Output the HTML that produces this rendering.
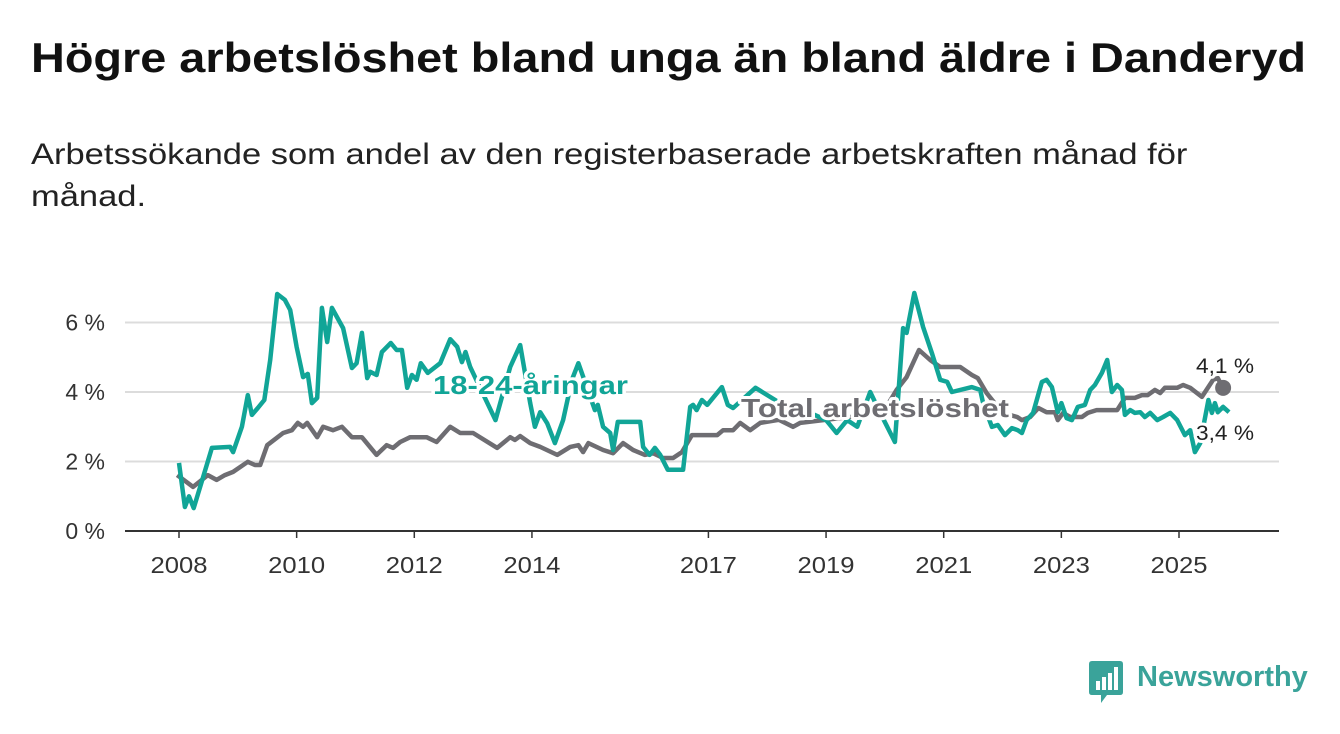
<!DOCTYPE html>
<html><head><meta charset="utf-8">
<style>
body{margin:0;background:#fff;width:1340px;height:734px;overflow:hidden;font-family:"Liberation Sans",sans-serif;}
h1{position:absolute;left:31px;top:34px;margin:0;font-size:42px;font-weight:bold;color:#111;transform:scaleX(1.115);transform-origin:0 0;white-space:nowrap}
.sub{position:absolute;left:31px;top:134px;font-size:30px;color:#222;line-height:42px;transform:scaleX(1.15);transform-origin:0 0;white-space:nowrap}
svg{position:absolute;left:0;top:0}
</style></head><body>
<h1>Högre arbetslöshet bland unga än bland äldre i Danderyd</h1>
<div class="sub">Arbetssökande som andel av den registerbaserade arbetskraften månad för<br>månad.</div>
<svg id="chart" width="1340" height="734"></svg>
<script>
const youthDates=[2008.0,2008.1,2008.17,2008.25,2008.41,2008.56,2008.87,2008.92,2009.07,2009.17,2009.24,2009.34,2009.45,2009.55,2009.67,2009.8,2009.89,2010.0,2010.11,2010.19,2010.26,2010.35,2010.43,2010.52,2010.6,2010.79,2010.94,2011.02,2011.11,2011.2,2011.25,2011.36,2011.45,2011.6,2011.7,2011.79,2011.88,2011.96,2012.04,2012.11,2012.23,2012.44,2012.61,2012.73,2012.81,2012.87,2012.95,2013.38,2013.63,2013.8,2013.97,2014.05,2014.14,2014.26,2014.39,2014.53,2014.68,2014.79,2015.07,2015.12,2015.21,2015.33,2015.38,2015.46,2015.84,2015.89,2016.0,2016.09,2016.18,2016.31,2016.57,2016.69,2016.74,2016.8,2016.89,2016.98,2017.23,2017.33,2017.42,2017.8,2018.2,2018.6,2019.0,2019.18,2019.36,2019.53,2019.75,2019.92,2020.17,2020.31,2020.37,2020.5,2020.65,2020.8,2020.94,2021.06,2021.14,2021.48,2021.62,2021.67,2021.82,2021.92,2022.04,2022.16,2022.26,2022.33,2022.41,2022.52,2022.67,2022.75,2022.84,2022.94,2023.0,2023.09,2023.18,2023.28,2023.4,2023.49,2023.57,2023.69,2023.78,2023.86,2023.95,2024.03,2024.08,2024.17,2024.25,2024.34,2024.42,2024.51,2024.63,2024.73,2024.85,2024.97,2025.1,2025.19,2025.27,2025.36,2025.5,2025.56,2025.61,2025.66,2025.75,2025.85];
const youthValues=[1.96,0.69,1.0,0.66,1.55,2.39,2.42,2.27,3.0,3.91,3.34,3.54,3.77,4.92,6.82,6.65,6.36,5.3,4.43,4.52,3.68,3.83,6.42,5.44,6.42,5.84,4.69,4.83,5.7,4.4,4.58,4.49,5.15,5.41,5.21,5.21,4.12,4.49,4.35,4.83,4.55,4.83,5.52,5.3,4.86,5.15,4.72,3.19,4.72,5.35,3.68,3.0,3.42,3.1,2.53,3.19,4.35,4.83,3.48,3.63,3.0,2.82,2.33,3.14,3.14,2.42,2.19,2.39,2.19,1.76,1.76,3.57,3.63,3.48,3.77,3.63,4.14,3.63,3.54,4.12,3.7,3.5,3.19,2.82,3.19,3.0,4.0,3.4,2.56,5.84,5.7,6.85,5.87,5.12,4.35,4.29,4.0,4.14,4.06,3.68,3.0,3.05,2.76,2.96,2.9,2.82,3.19,3.4,4.29,4.35,4.14,3.42,3.68,3.25,3.19,3.57,3.63,4.06,4.2,4.55,4.92,4.0,4.2,4.06,3.34,3.48,3.4,3.42,3.28,3.4,3.19,3.28,3.4,3.19,2.76,2.9,2.27,2.53,3.77,3.4,3.68,3.42,3.57,3.42];
const totalDates=[2007.97,2008.24,2008.49,2008.64,2008.78,2008.92,2009.17,2009.29,2009.38,2009.5,2009.77,2009.92,2010.02,2010.11,2010.18,2010.35,2010.45,2010.62,2010.77,2010.94,2011.11,2011.36,2011.53,2011.64,2011.76,2011.93,2012.21,2012.38,2012.61,2012.78,2013.0,2013.41,2013.63,2013.71,2013.8,2013.97,2014.14,2014.43,2014.65,2014.79,2014.87,2014.96,2015.21,2015.38,2015.55,2015.72,2015.92,2016.06,2016.23,2016.4,2016.55,2016.72,2017.15,2017.25,2017.42,2017.54,2017.71,2017.88,2018.2,2018.44,2018.56,2019.0,2019.5,2020.0,2020.2,2020.37,2020.58,2020.77,2020.94,2021.28,2021.48,2021.58,2021.73,2022.0,2022.25,2022.33,2022.47,2022.61,2022.75,2022.89,2022.94,2023.03,2023.15,2023.35,2023.45,2023.6,2023.95,2024.08,2024.25,2024.37,2024.47,2024.59,2024.68,2024.76,2024.97,2025.07,2025.19,2025.39,2025.58,2025.66,2025.75];
const totalValues=[1.61,1.27,1.61,1.47,1.61,1.7,1.99,1.9,1.9,2.47,2.82,2.9,3.11,3.0,3.11,2.7,3.0,2.9,3.0,2.7,2.7,2.19,2.47,2.39,2.56,2.7,2.7,2.56,3.0,2.82,2.82,2.39,2.7,2.62,2.73,2.53,2.42,2.19,2.42,2.47,2.27,2.53,2.33,2.24,2.53,2.33,2.19,2.24,2.1,2.1,2.27,2.76,2.76,2.9,2.9,3.11,2.9,3.11,3.2,3.0,3.11,3.2,3.3,3.5,4.06,4.43,5.21,4.92,4.72,4.72,4.49,4.4,3.97,3.4,3.28,3.19,3.28,3.54,3.42,3.42,3.19,3.4,3.28,3.28,3.4,3.48,3.48,3.83,3.83,3.91,3.91,4.06,3.97,4.12,4.12,4.2,4.12,3.86,4.35,4.4,4.12];
const xTicks=[2008,2010,2012,2014,2017,2019,2021,2023,2025];
const yTicks=[0,2,4,6];
const yTickLabels=["0 %","2 %","4 %","6 %"];

const NS="http://www.w3.org/2000/svg";
const svg=document.getElementById('chart');
const X=v=>179+(v-2008)*(1000/17);
const Y=v=>531-v*34.75;
function mk(t,a,p){const e=document.createElementNS(NS,t);for(const k in a)e.setAttribute(k,a[k]);(p||svg).appendChild(e);return e;}
yTicks.forEach((t,i)=>{
  if(t>0){const g=mk('line',{x1:125,x2:1279,y1:Y(t),y2:Y(t),stroke:'#dcdcdc','stroke-width':2});
  
  }
  const l=mk('text',{x:105,y:Y(t)+8,'text-anchor':'end','font-size':23,fill:'#333','font-family':'Liberation Sans'});
  l.textContent=yTickLabels[i];
  
  
});
const ax=mk('line',{x1:125,x2:1279,y1:531,y2:531,stroke:'#333','stroke-width':2});


xTicks.forEach(t=>{
  const tk=mk('line',{x1:X(t),x2:X(t),y1:531,y2:538,stroke:'#333','stroke-width':1.5});
  
  
  const l=mk('text',{x:X(t),y:573,'text-anchor':'middle','font-size':23,fill:'#333','font-family':'Liberation Sans',textLength:57,lengthAdjust:'spacingAndGlyphs'});
  l.textContent=t;
  
  
});
function path(d,v){return d.map((x,i)=>(i?'L':'M')+X(x).toFixed(1)+','+Y(v[i]).toFixed(1)).join('');}
const tl=mk('path',{d:path(totalDates,totalValues),fill:'none',stroke:'#6e6d72','stroke-width':4.5,'stroke-linejoin':'round'});


const yl=mk('path',{d:path(youthDates,youthValues),fill:'none',stroke:'#11a597','stroke-width':4.5,'stroke-linejoin':'round'});


const dot=mk('circle',{cx:X(totalDates[totalDates.length-1]),cy:Y(totalValues[totalValues.length-1]),r:8,fill:'#6e6d72'});


function lbl(txt,x,y,fill,name,size,bold,halo,len){
  const a={x:x,y:y,'font-size':size,fill:fill,'font-weight':bold?'bold':'normal','font-family':'Liberation Sans','paint-order':'stroke',stroke:halo?'#fff':'none','stroke-width':halo?6:0,'stroke-linejoin':'round'};
  if(len){a.textLength=len;a.lengthAdjust='spacingAndGlyphs';}
  const t=mk('text',a);
  t.textContent=txt;
  
  
}
lbl('18-24-åringar',433,394,'#11a597','youth-series-label',26,true,true,195);
lbl('Total arbetslöshet',741,417,'#6e6d72','total-series-label',26,true,true,268);
lbl('4,1 %',1196,373,'#222','total-end-value',21,false,true,58);
lbl('3,4 %',1196,440,'#222','youth-end-value',21,false,true,58);
</script>
<div style="position:absolute;left:1089px;top:661px;">
<svg width="36" height="44" style="position:absolute;left:0;top:0">
<path d="M0 3 Q0 0 3 0 L31 0 Q34 0 34 3 L34 31 Q34 34 31 34 L18 34 L12 42 L12 34 L3 34 Q0 34 0 31Z" fill="#3aa39a"/>
<rect x="7" y="20" width="4" height="9" fill="#fff"/><rect x="13" y="16" width="4" height="13" fill="#fff"/><rect x="19" y="12" width="4" height="17" fill="#fff"/><rect x="25" y="6" width="4" height="23" fill="#fff"/>
</svg>
<span style="position:absolute;left:48px;top:0;font-size:29px;color:#3aa39a;font-weight:bold;white-space:nowrap">Newsworthy</span>
</div>
</body></html>
